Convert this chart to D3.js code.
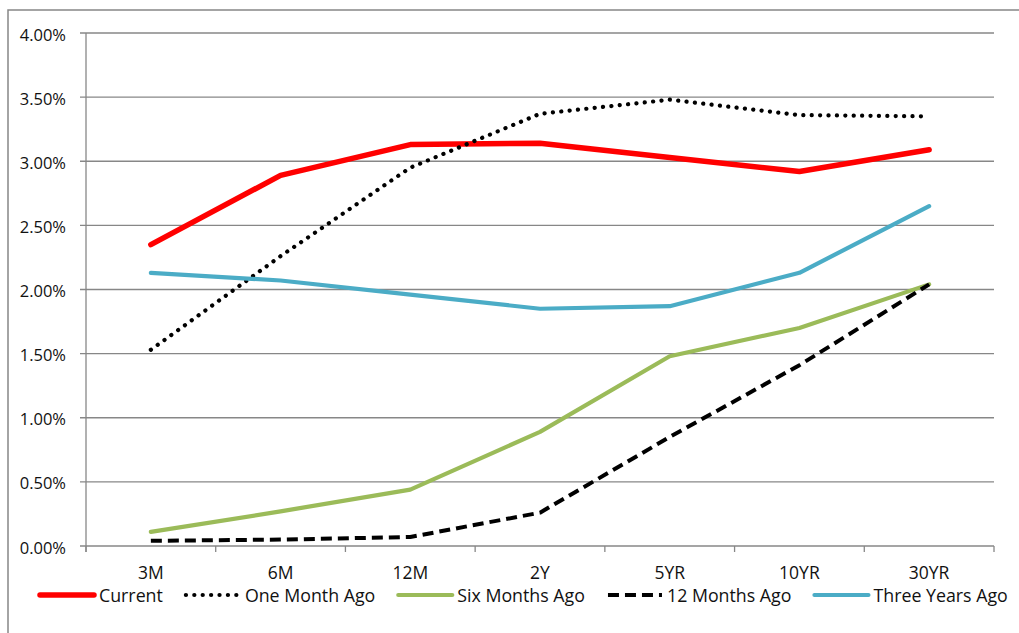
<!DOCTYPE html>
<html>
<head>
<meta charset="utf-8">
<script src="https://cdn.jsdelivr.net/npm/d3@7"></script>
<style>
  html, body { margin: 0; padding: 0; background: #fff; }
  svg { display: block; }
  text { fill: #111; }
</style>
</head>
<body>
<svg id="chart" width="1019" height="633"></svg>
<script>
// Yield curve snapshots (percent)
const categories = ["3M", "6M", "12M", "2Y", "5YR", "10YR", "30YR"];
const current         = [2.35, 2.89, 3.13, 3.14, 3.03, 2.92, 3.09];
const oneMonthAgo     = [1.53, 2.26, 2.95, 3.37, 3.48, 3.36, 3.35];
const sixMonthsAgo    = [0.11, 0.27, 0.44, 0.89, 1.48, 1.70, 2.04];
const twelveMonthsAgo = [0.04, 0.05, 0.07, 0.26, 0.85, 1.41, 2.04];
const threeYearsAgo   = [2.13, 2.07, 1.96, 1.85, 1.87, 2.13, 2.65];
const seriesNames = ["Current", "One Month Ago", "Six Months Ago", "12 Months Ago", "Three Years Ago"];
const yTicks = [0, 0.5, 1, 1.5, 2, 2.5, 3, 3.5, 4];

const seriesValues = [current, oneMonthAgo, sixMonthsAgo, twelveMonthsAgo, threeYearsAgo];
const seriesStyles = [
  { color: "#FF0000", width: 5.5, dash: null, cap: "round" },
  { color: "#000000", width: 4.2, dash: "0.1 8.3", cap: "round" },
  { color: "#9BBB59", width: 4.2, dash: null, cap: "round" },
  { color: "#000000", width: 4, dash: "11 6", cap: "butt" },
  { color: "#4BACC6", width: 4.2, dash: null, cap: "round" }
];

const svg = d3.select("#chart");
const plotLeft = 86, plotRight = 994, plotTop = 33, plotBottom = 546;
const gridColor = "#878787";
const font = "'Open Sans', sans-serif";

// outer chart frame
svg.append("rect")
  .attr("x", 8).attr("y", 10).attr("width", 1030).attr("height", 650)
  .attr("fill", "none").attr("stroke", gridColor).attr("stroke-width", 1.5);

const x = d3.scaleBand().domain(categories).range([plotLeft, plotRight]).padding(0);
const y = d3.scaleLinear().domain([0, 4]).range([plotBottom, plotTop]);

// horizontal gridlines with left tick stubs
svg.append("g").selectAll("line").data(yTicks).join("line")
  .attr("x1", plotLeft - 6).attr("x2", plotRight)
  .attr("y1", d => y(d)).attr("y2", d => y(d))
  .attr("stroke", gridColor).attr("stroke-width", 1.3);

// y axis line
svg.append("line")
  .attr("x1", plotLeft).attr("x2", plotLeft).attr("y1", plotTop).attr("y2", plotBottom + 6)
  .attr("stroke", gridColor).attr("stroke-width", 1.3);

// x axis tick marks at category boundaries
const boundaries = categories.map(c => x(c)).concat([plotRight]);
svg.append("g").selectAll("line").data(boundaries).join("line")
  .attr("x1", d => d).attr("x2", d => d)
  .attr("y1", plotBottom).attr("y2", plotBottom + 6)
  .attr("stroke", gridColor).attr("stroke-width", 1.3);

// y tick labels
svg.append("g").selectAll("text").data(yTicks).join("text")
  .attr("x", plotLeft - 20).attr("y", d => y(d) + 1)
  .attr("text-anchor", "end").attr("dominant-baseline", "central")
  .style("font-family", font).style("font-size", "16.5px")
  .text(d => d3.format(".2f")(d) + "%");

// category labels
svg.append("g").selectAll("text").data(categories).join("text")
  .attr("x", d => x(d) + x.bandwidth() / 2).attr("y", 579)
  .attr("text-anchor", "middle")
  .style("font-family", font).style("font-size", "17.5px")
  .text(d => d);

// series lines
const line = d3.line()
  .x((d, i) => x(categories[i]) + x.bandwidth() / 2)
  .y(d => y(d));

svg.append("g").selectAll("path").data(seriesValues).join("path")
  .attr("d", d => line(d))
  .attr("fill", "none")
  .attr("stroke", (d, i) => seriesStyles[i].color)
  .attr("stroke-width", (d, i) => seriesStyles[i].width)
  .attr("stroke-dasharray", (d, i) => seriesStyles[i].dash)
  .attr("stroke-linecap", (d, i) => seriesStyles[i].cap)
  .attr("stroke-linejoin", "round");

// legend along the bottom
const legend = svg.append("g");
let lx = 40;
const ly = 595;
seriesNames.forEach((name, i) => {
  const s = seriesStyles[i];
  legend.append("line")
    .attr("x1", lx).attr("x2", lx + 54).attr("y1", ly).attr("y2", ly)
    .attr("stroke", s.color).attr("stroke-width", s.width)
    .attr("stroke-dasharray", s.dash).attr("stroke-linecap", s.cap);
  const t = legend.append("text")
    .attr("x", lx + 59).attr("y", ly + 6.5)
    .style("font-family", font).style("font-size", "17.8px")
    .text(name);
  lx += 59 + t.node().getComputedTextLength() + 23;
});
</script>
</body>
</html>
